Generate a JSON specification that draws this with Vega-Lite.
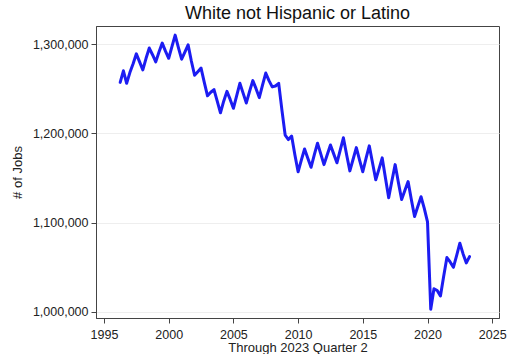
{
  "$schema": "https://vega.github.io/schema/vega-lite/v6.json",
  "width": 403,
  "height": 292,
  "autosize": {"type": "none"},
  "padding": {"left": 96, "top": 26, "right": 9, "bottom": 36},
  "background": "white",
  "title": {
    "text": "White not Hispanic or Latino",
    "font": "Liberation Sans",
    "fontSize": 18,
    "fontWeight": "normal",
    "color": "#111",
    "anchor": "middle",
    "offset": 3
  },
  "config": {
    "view": {"stroke": "#444", "strokeWidth": 1},
    "font": "Liberation Sans"
  },
  "data": {
    "values": [
      {"t": 1996.25, "v": 1257000}, {"t": 1996.5, "v": 1270000}, {"t": 1996.75, "v": 1256000},
      {"t": 1997.0, "v": 1268000}, {"t": 1997.25, "v": 1278000}, {"t": 1997.5, "v": 1289000}, {"t": 1997.75, "v": 1280000},
      {"t": 1998.0, "v": 1271000}, {"t": 1998.25, "v": 1284000}, {"t": 1998.5, "v": 1295500}, {"t": 1998.75, "v": 1288000},
      {"t": 1999.0, "v": 1280000}, {"t": 1999.25, "v": 1291000}, {"t": 1999.5, "v": 1301000}, {"t": 1999.75, "v": 1292000},
      {"t": 2000.0, "v": 1284000}, {"t": 2000.25, "v": 1297000}, {"t": 2000.5, "v": 1310000}, {"t": 2000.75, "v": 1296000},
      {"t": 2001.0, "v": 1283000}, {"t": 2001.25, "v": 1291000}, {"t": 2001.5, "v": 1299000}, {"t": 2001.75, "v": 1281000},
      {"t": 2002.0, "v": 1265000}, {"t": 2002.25, "v": 1269000}, {"t": 2002.5, "v": 1273000}, {"t": 2002.75, "v": 1257000},
      {"t": 2003.0, "v": 1242000}, {"t": 2003.25, "v": 1246000}, {"t": 2003.5, "v": 1249000}, {"t": 2003.75, "v": 1236000},
      {"t": 2004.0, "v": 1223000}, {"t": 2004.25, "v": 1236000}, {"t": 2004.5, "v": 1247000}, {"t": 2004.75, "v": 1238000},
      {"t": 2005.0, "v": 1228000}, {"t": 2005.25, "v": 1242000}, {"t": 2005.5, "v": 1256000}, {"t": 2005.75, "v": 1245000},
      {"t": 2006.0, "v": 1234000}, {"t": 2006.25, "v": 1247000}, {"t": 2006.5, "v": 1259000}, {"t": 2006.75, "v": 1250000},
      {"t": 2007.0, "v": 1240000}, {"t": 2007.25, "v": 1254000}, {"t": 2007.5, "v": 1267500}, {"t": 2007.75, "v": 1259000},
      {"t": 2008.0, "v": 1252000}, {"t": 2008.25, "v": 1253000}, {"t": 2008.5, "v": 1256000}, {"t": 2008.75, "v": 1226000},
      {"t": 2009.0, "v": 1198000}, {"t": 2009.25, "v": 1193000}, {"t": 2009.5, "v": 1197000}, {"t": 2009.75, "v": 1176000},
      {"t": 2010.0, "v": 1157000}, {"t": 2010.25, "v": 1170000}, {"t": 2010.5, "v": 1182500}, {"t": 2010.75, "v": 1172000},
      {"t": 2011.0, "v": 1162000}, {"t": 2011.25, "v": 1176000}, {"t": 2011.5, "v": 1189000}, {"t": 2011.75, "v": 1177000},
      {"t": 2012.0, "v": 1165000}, {"t": 2012.25, "v": 1176000}, {"t": 2012.5, "v": 1187000}, {"t": 2012.75, "v": 1177000},
      {"t": 2013.0, "v": 1167000}, {"t": 2013.25, "v": 1181000}, {"t": 2013.5, "v": 1195000}, {"t": 2013.75, "v": 1176000},
      {"t": 2014.0, "v": 1158000}, {"t": 2014.25, "v": 1171000}, {"t": 2014.5, "v": 1184000}, {"t": 2014.75, "v": 1170000},
      {"t": 2015.0, "v": 1157000}, {"t": 2015.25, "v": 1172000}, {"t": 2015.5, "v": 1186000}, {"t": 2015.75, "v": 1167000},
      {"t": 2016.0, "v": 1148000}, {"t": 2016.25, "v": 1160000}, {"t": 2016.5, "v": 1172500}, {"t": 2016.75, "v": 1150000},
      {"t": 2017.0, "v": 1128000}, {"t": 2017.25, "v": 1147000}, {"t": 2017.5, "v": 1165000}, {"t": 2017.75, "v": 1145000},
      {"t": 2018.0, "v": 1126000}, {"t": 2018.25, "v": 1136000}, {"t": 2018.5, "v": 1146000}, {"t": 2018.75, "v": 1126000},
      {"t": 2019.0, "v": 1107000}, {"t": 2019.25, "v": 1118000}, {"t": 2019.5, "v": 1129000}, {"t": 2019.75, "v": 1116000},
      {"t": 2020.0, "v": 1101000}, {"t": 2020.25, "v": 1003000}, {"t": 2020.5, "v": 1026000}, {"t": 2020.75, "v": 1024000},
      {"t": 2021.0, "v": 1018000}, {"t": 2021.25, "v": 1040000}, {"t": 2021.5, "v": 1061000}, {"t": 2021.75, "v": 1056000},
      {"t": 2022.0, "v": 1050000}, {"t": 2022.25, "v": 1063000}, {"t": 2022.5, "v": 1077000}, {"t": 2022.75, "v": 1065000},
      {"t": 2023.0, "v": 1055000}, {"t": 2023.25, "v": 1062000}
    ]
  },
  "mark": {"type": "line", "color": "#1c1cf2", "strokeWidth": 3, "strokeJoin": "round", "strokeCap": "round"},
  "encoding": {
    "x": {
      "field": "t",
      "type": "quantitative",
      "scale": {"domain": [1994.382, 2025.525], "nice": false, "zero": false},
      "axis": {
        "values": [1995, 2000, 2005, 2010, 2015, 2020, 2025],
        "format": "d",
        "title": "Through 2023 Quarter 2",
        "titleFont": "Liberation Sans",
        "titleFontSize": 13,
        "titleFontWeight": "normal",
        "titleColor": "#222",
        "titlePadding": 1,
        "labelFont": "Liberation Sans",
        "labelFontSize": 12.5,
        "labelColor": "#222",
        "labelPadding": 5,
        "tickSize": 5,
        "tickColor": "#444",
        "domainColor": "#444",
        "grid": false
      }
    },
    "y": {
      "field": "v",
      "type": "quantitative",
      "scale": {"domain": [993280, 1320160], "nice": false, "zero": false},
      "axis": {
        "values": [1000000, 1100000, 1200000, 1300000],
        "format": ",d",
        "title": "# of Jobs",
        "titleFont": "Liberation Sans",
        "titleFontSize": 13,
        "titleFontWeight": "normal",
        "titleColor": "#222",
        "titlePadding": 8,
        "labelFont": "Liberation Sans",
        "labelFontSize": 12.5,
        "labelColor": "#222",
        "labelPadding": 3,
        "tickSize": 5,
        "tickColor": "#444",
        "domainColor": "#444",
        "grid": true,
        "gridColor": "#eeeeee",
        "gridWidth": 1
      }
    }
  }
}
